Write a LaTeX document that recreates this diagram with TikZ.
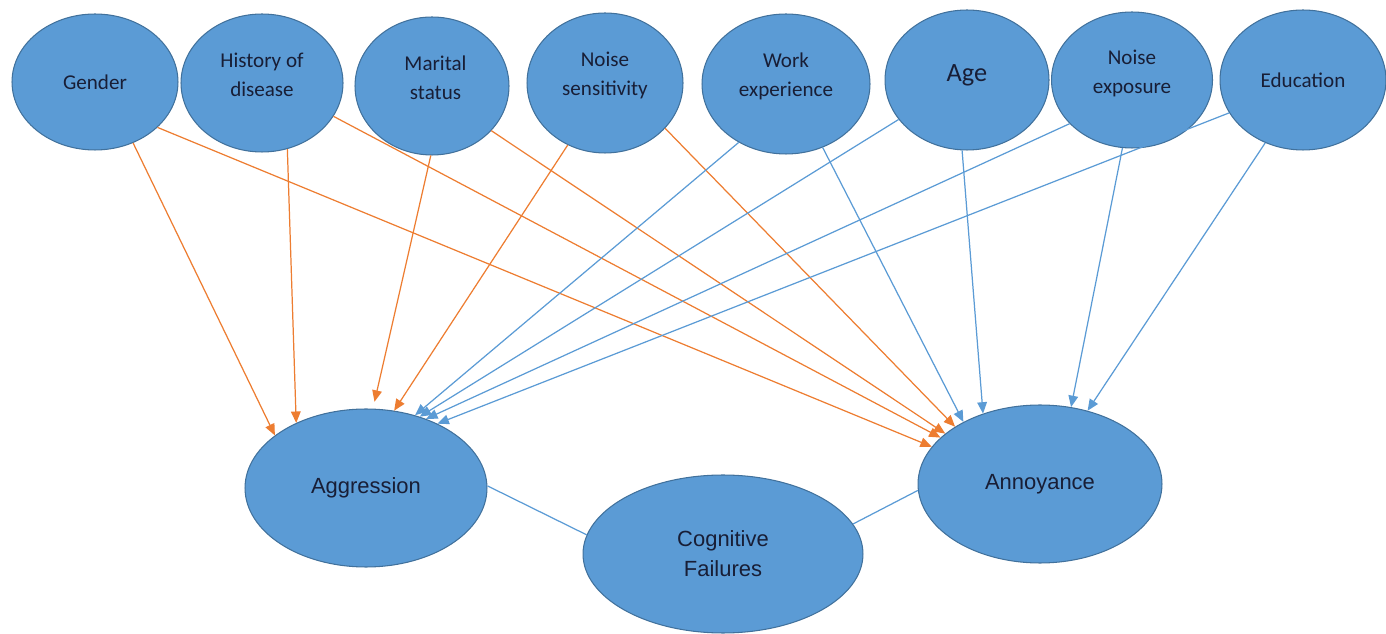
\documentclass[tikz,border=0pt]{standalone}
\usepackage{fontspec}
\setmainfont{Carlito}
\newfontfamily\arialf{Liberation Sans}
\usetikzlibrary{shapes.geometric,arrows.meta}
\definecolor{nodefill}{RGB}{91,155,213}
\definecolor{nodeline}{RGB}{65,113,156}
\definecolor{txt}{RGB}{24,30,54}
\definecolor{orangeline}{RGB}{237,125,49}
\definecolor{blueline}{RGB}{91,155,213}
\begin{document}
\begin{tikzpicture}[x=0.02cm,y=-0.02cm,
  var/.style={ellipse, draw=nodeline, fill=nodefill, line width=0.6pt, inner sep=0pt,
    text=txt, align=center, font=\fontsize{12}{16.4}\selectfont},
  uptext/.style={text=txt, align=center, font=\fontsize{12}{16.4}\selectfont, yshift=4.5pt, inner sep=0pt},
  big/.style={var, font=\arialf\fontsize{12.5}{17}\selectfont},
  oarr/.style={draw=orangeline, line width=0.7pt, -{Triangle[length=6.5pt,width=5.5pt]}},
  barr/.style={draw=blueline, line width=0.7pt, -{Triangle[length=6.5pt,width=5.5pt]}},
  link/.style={draw=blueline, line width=0.7pt}]
\useasboundingbox (0,0) rectangle (1386,634);
% top row
\node[var, minimum width=3.32cm, minimum height=2.72cm] (g)  at (95,82)   {Gender};
\node[var, minimum width=3.24cm, minimum height=2.76cm,
      label={[uptext]center:History of\\disease}] (h)  at (262,83)  {};
\node[var, minimum width=3.08cm, minimum height=2.76cm,
      label={[uptext, xshift=2pt]center:Marital\\status}] (m)  at (432,86)  {};
\node[var, minimum width=3.12cm, minimum height=2.80cm,
      label={[uptext]center:Noise\\sensitivity}] (ns) at (605,83)  {};
\node[var, minimum width=3.36cm, minimum height=2.80cm,
      label={[uptext]center:Work\\experience}] (w)  at (786,84)  {};
\node[var, minimum width=3.28cm, minimum height=2.80cm,
      label={[uptext, font=\fontsize{15}{18}\selectfont, yshift=-2pt]center:Age}] (a)  at (967,80)  {};
\node[var, minimum width=3.22cm, minimum height=2.72cm,
      label={[uptext, yshift=-1pt]center:Noise\\exposure}] (ne) at (1132,80) {};
\node[var, minimum width=3.32cm, minimum height=2.80cm] (e)  at (1303,80) {Education};
% bottom row
\node[big, minimum width=4.84cm, minimum height=3.16cm] (ag) at (366,488) {Aggression};
\node[big, minimum width=4.88cm, minimum height=3.16cm] (an) at (1040,484) {Annoyance};
\node[big, minimum width=5.60cm, minimum height=3.16cm] (cf) at (723,554) {Cognitive\\Failures};
% links to cognitive failures
\draw[link] (ag.1.4) -- (cf.172.2);
\draw[link] (cf.13.4) -- (an.183.8);
% orange arrows to Aggression
\draw[oarr] (g.-58.8)  -- (ag.150.7);
\draw[oarr] (h.-69.3)  -- (ag.137.9);
\draw[oarr, shorten >=4pt] (m.-91.7) -- (ag.85.5);
\draw[oarr] (ns.-121.6) -- (ag.70.3);
% orange arrows to Annoyance
\draw[oarr] (g.-36)    -- (an.161.9);
\draw[oarr] (h.-25.6)  -- (an.155.7);
\draw[oarr] (m.-37.4)  -- (an.152.1);
\draw[oarr] (ns.-37.8) -- (an.146);
% blue arrows to Aggression
\draw[barr] (w.-129.4) -- (ag.56.1);
\draw[barr] (a.-150)   -- (ag.53.6);
\draw[barr] (ne.-145)  -- (ag.49.7);
\draw[barr] (e.-156.6) -- (ag.42.6);
% blue arrows to Annoyance
\draw[barr] (w.-60.6)  -- (an.141.1);
\draw[barr] (a.-94)    -- (an.129.7);
\draw[barr] (ne.-98.4) -- (an.68.4);
\draw[barr] (e.-121.2) -- (an.57.7);
\end{tikzpicture}
\end{document}
